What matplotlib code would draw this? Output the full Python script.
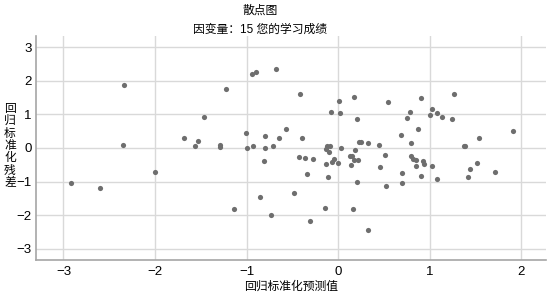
import matplotlib
matplotlib.use("Agg")
import matplotlib.pyplot as plt

plt.rcParams['font.family'] = ['Liberation Sans', 'Noto Sans CJK SC', 'DejaVu Sans']

# 回归标准化预测值 / 回归标准化残差
pred = [-2.913, -2.604, -2.335, -2.345, -2.0, -1.687, -1.567, -1.531, -1.465, -1.287,
        -1.29, -1.225, -1.138, -1.004, -1.0, -0.942, -0.895, -0.676, -0.931, -0.804,
        -0.80, -0.716, -0.647, -0.571, -0.815, -0.858, -0.738,
        -0.415, -0.396, -0.425, -0.364, -0.273, -0.345, -0.487, -0.305, -0.149, -0.076,
        0.004, 0.018, 0.178, 0.207, -0.124, -0.091, -0.138, -0.105, 0.033, -0.04,
        -0.069, -0.007, -0.131, -0.109, 0.131, 0.149, 0.182, 0.175, 0.222, 0.135,
        0.225, 0.247, 0.327, 0.211, 0.16, 0.327, 0.444, 0.455, 0.516, 0.52,
        0.549, 0.687, 0.695, 0.702, 0.753, 0.789, 0.796, 0.796, 0.815, 0.847,
        0.851, 0.869, 0.902, 0.909, 0.924, 0.938, 1.0, 1.029, 1.084, 1.135,
        1.025, 1.076, 1.247, 1.265, 1.371, 1.385, 1.418, 1.444, 1.516, 1.538,
        1.713, 1.909]
resid = [-1.046, -1.175, 1.866, 0.099, -0.70, 0.286, 0.05, 0.217, 0.928, 0.099,
         0.02, 1.747, -1.816, 0.454, -0.01, 2.19, 2.26, 2.36, 0.05, 0.365,
         -0.01, 0.05, 0.296, 0.553, -0.375, -1.471, -1.984,
         1.60, 0.286, -0.257, -0.286, -0.326, -0.76, -1.352, -2.17, -1.777, 1.076,
         1.41, 1.037, 1.52, 0.859, 0.059, 0.059, -0.02, -0.118, 0.01, -0.326,
         -0.415, -0.444, -0.484, -0.859, -0.227, -0.237, -0.059, -0.346, -0.355, -0.503,
         0.188, 0.188, 0.158, -1.007, -1.816, -2.448, 0.099, -0.553, -0.207, -1.135,
         1.362, 0.375, -0.75, -1.027, 0.898, 1.076, 0.138, -0.237, -0.336, -0.346,
         -0.543, 0.573, 1.481, -0.839, -0.395, -0.474, 0.977, 1.155, 1.037, 0.918,
         -0.523, -0.918, 0.869, 1.609, 0.069, 0.069, -0.869, -0.612, -0.454, 0.286,
         -0.721, 0.494]

xticks = [-3, -2, -1, 0, 1, 2]
yticks = [-3, -2, -1, 0, 1, 2, 3]

fig = plt.figure(figsize=(5.48, 2.92), dpi=100)
ax = fig.add_axes([36 / 548, 32 / 292, 510 / 548, 224 / 292])

ax.scatter(pred, resid, s=14, color='#6e6e6e', linewidths=0, zorder=3)

ax.set_xlim(-3.3, 2.27)
ax.set_ylim(-3.33, 3.33)
ax.set_xticks(xticks)
ax.set_yticks(yticks)
ax.grid(True, color='#d9d9d9', linewidth=1)
ax.set_axisbelow(True)
ax.tick_params(length=0, labelsize=9.5, colors='black')
ax.tick_params(axis='x', pad=4)
ax.tick_params(axis='y', pad=3)

for side in ['top', 'right']:
    ax.spines[side].set_visible(False)
for side in ['left', 'bottom']:
    ax.spines[side].set_color('#a6a6a6')
    ax.spines[side].set_linewidth(1.2)

ax.set_xlabel("回归标准化预测值", fontsize=8.5, labelpad=2)
fig.text(10 / 548, 1 - 146 / 292, "\n".join("回归标准化残差"), fontsize=8.5,
         ha='center', va='center', linespacing=1.05)

fig.text(260 / 548, 1 - 11 / 292, "散点图", fontsize=8.5, ha='center', va='center')
fig.text(260 / 548, 1 - 30 / 292, "因变量：15 您的学习成绩", fontsize=8.5,
         ha='center', va='center')

fig.savefig("out.png", dpi=100)
